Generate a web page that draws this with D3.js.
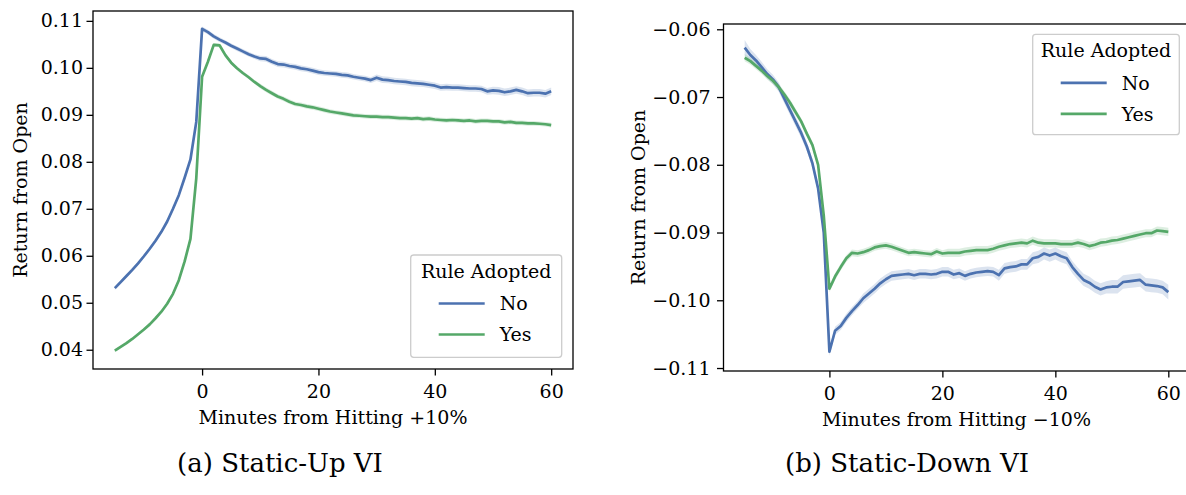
<!DOCTYPE html>
<html><head><meta charset="utf-8">
<script src="https://cdn.jsdelivr.net/npm/d3@7"></script>
<style>
body{margin:0;background:#fff}
svg{display:block}
text{font-family:"DejaVu Serif",serif;fill:#000}
</style>
</head><body>
<svg id="chart" width="1186" height="495"></svg>
<script>
// ---- data ----
const minutes = [-15,-14,-13,-12,-11,-10,-9,-8,-7,-6,-5,-4,-3,-2,-1,
  0,1,2,3,4,5,6,7,8,9,10,11,12,13,14,15,16,17,18,19,20,21,22,23,24,25,26,27,28,29,
  30,31,32,33,34,35,36,37,38,39,40,41,42,43,44,45,46,47,48,49,50,51,52,53,54,55,56,57,58,59,60];
const seriesNames = ["No", "Yes"];
const xTicks = [0, 20, 40, 60];

// (a) Static-Up VI
const upNo = [0.0531,0.0544,0.0557,0.0570,0.0584,0.0599,0.0615,0.0632,0.0651,0.0673,0.0700,0.0729,0.0766,0.0805,0.0885,
  0.1083,0.1076,0.1067,0.1060,0.1054,0.1047,0.1041,0.1035,0.1029,0.1024,
  0.1020,0.1019,0.1013,0.1008,0.1007,0.1004,0.1002,0.0999,0.0997,0.0994,
  0.0991,0.0989,0.0988,0.0987,0.0985,0.0984,0.0981,0.0979,0.0977,0.0974,
  0.0979,0.0975,0.0974,0.0972,0.0971,0.0970,0.0968,0.0967,0.0966,0.0964,
  0.0962,0.0958,0.0959,0.0958,0.0958,0.0957,0.0956,0.0956,0.0955,0.0950,
  0.0952,0.0951,0.0948,0.0950,0.0953,0.0950,0.0946,0.0947,0.0947,0.0945,
  0.0950];
const upYes = [0.0398,0.0406,0.0414,0.0423,0.0433,0.0443,0.0454,0.0467,0.0481,0.0498,0.0519,0.0548,0.0588,0.0636,0.0765,
  0.0981,0.1013,0.1049,0.1048,0.1027,0.1011,0.0999,0.0989,0.0980,0.0970,
  0.0961,0.0953,0.0946,0.0939,0.0934,0.0928,0.0923,0.0921,0.0918,0.0916,
  0.0913,0.0910,0.0907,0.0905,0.0903,0.0901,0.0899,0.0898,0.0897,0.0896,
  0.0896,0.0895,0.0895,0.0894,0.0893,0.0893,0.0892,0.0893,0.0891,0.0892,
  0.0890,0.0889,0.0888,0.0889,0.0888,0.0887,0.0888,0.0886,0.0887,0.0887,
  0.0886,0.0886,0.0884,0.0885,0.0883,0.0883,0.0882,0.0882,0.0881,0.0880,
  0.0878];
const upNoCI = [0.0004,0.0004,0.0004,0.0004,0.0004,0.0004,0.0004,0.0004,0.0004,0.0004,0.0004,0.0004,0.0004,0.0004,0.0004,
  0.0005,0.0005,0.0005,0.0005,0.0005,0.0005,0.0005,0.0005,0.0005,0.0005,
  0.0006,0.0006,0.0006,0.0006,0.0006,0.0006,0.0006,0.0006,0.0006,0.0006,
  0.0006,0.0006,0.0006,0.0006,0.0006,0.0006,0.0006,0.0006,0.0006,0.0006,
  0.0007,0.0007,0.0007,0.0007,0.0007,0.0007,0.0007,0.0007,0.0007,0.0007,
  0.0007,0.0007,0.0007,0.0007,0.0007,0.0007,0.0007,0.0007,0.0007,0.0007,
  0.0008,0.0008,0.0008,0.0008,0.0008,0.0008,0.0008,0.0008,0.0008,0.0008,
  0.0008];
const upYesCI = [0.0003,0.0003,0.0003,0.0003,0.0003,0.0003,0.0003,0.0003,0.0003,0.0003,0.0003,0.0003,0.0003,0.0003,0.0003,
  0.0004,0.0004,0.0004,0.0004,0.0004,0.0004,0.0004,0.0004,0.0004,0.0004,
  0.0005,0.0005,0.0005,0.0005,0.0005,0.0005,0.0005,0.0005,0.0005,0.0005,
  0.0005,0.0005,0.0005,0.0005,0.0005,0.0005,0.0005,0.0005,0.0005,0.0005,
  0.0005,0.0005,0.0005,0.0005,0.0005,0.0005,0.0005,0.0005,0.0005,0.0005,
  0.0005,0.0005,0.0005,0.0005,0.0005,0.0005,0.0005,0.0005,0.0005,0.0005,
  0.0005,0.0005,0.0005,0.0005,0.0005,0.0005,0.0005,0.0005,0.0005,0.0005,
  0.0005];
const upYTicks = [0.04, 0.05, 0.06, 0.07, 0.08, 0.09, 0.10, 0.11];
const upYLabels = ["0.04", "0.05", "0.06", "0.07", "0.08", "0.09", "0.10", "0.11"];

// (b) Static-Down VI
const downNo = [-0.0627,-0.0638,-0.0646,-0.0656,-0.0666,-0.0674,-0.0685,-0.0702,-0.0719,-0.0736,-0.0753,-0.0773,-0.0798,-0.0835,-0.0900,
  -0.1076,-0.1045,-0.1038,-0.1026,-0.1016,-0.1007,-0.0997,-0.0990,-0.0983,-0.0975,
  -0.0969,-0.0964,-0.0963,-0.0962,-0.0961,-0.0963,-0.0961,-0.0961,-0.0962,-0.0961,
  -0.0958,-0.0958,-0.0962,-0.0960,-0.0964,-0.0961,-0.0959,-0.0958,-0.0957,-0.0958,
  -0.0963,-0.0953,-0.0951,-0.0950,-0.0947,-0.0947,-0.0938,-0.0936,-0.0931,-0.0934,
  -0.0931,-0.0935,-0.0938,-0.0951,-0.0961,-0.0970,-0.0974,-0.0980,-0.0984,-0.0981,
  -0.0980,-0.0980,-0.0973,-0.0972,-0.0971,-0.0970,-0.0977,-0.0978,-0.0979,-0.0981,
  -0.0988];
const downYes = [-0.0642,-0.0647,-0.0654,-0.0661,-0.0669,-0.0676,-0.0685,-0.0696,-0.0708,-0.0722,-0.0736,-0.0754,-0.0771,-0.0800,-0.0875,
  -0.0983,-0.0965,-0.0951,-0.0938,-0.0930,-0.0931,-0.0929,-0.0926,-0.0922,-0.0920,
  -0.0919,-0.0921,-0.0924,-0.0927,-0.0930,-0.0929,-0.0930,-0.0931,-0.0932,-0.0928,
  -0.0931,-0.0930,-0.0930,-0.0930,-0.0928,-0.0927,-0.0926,-0.0926,-0.0926,-0.0924,
  -0.0921,-0.0919,-0.0917,-0.0916,-0.0915,-0.0916,-0.0912,-0.0915,-0.0916,-0.0916,
  -0.0916,-0.0917,-0.0917,-0.0917,-0.0915,-0.0917,-0.0920,-0.0918,-0.0915,-0.0914,
  -0.0912,-0.0911,-0.0909,-0.0907,-0.0905,-0.0903,-0.0901,-0.0901,-0.0897,-0.0898,
  -0.0899];
const downNoCI = [0.0011,0.0009,0.0008,0.0008,0.0007,0.0007,0.0007,0.0007,0.0007,0.0007,0.0007,0.0007,0.0007,0.0007,0.0007,
  0.0006,0.0006,0.0006,0.0006,0.0006,0.0006,0.0007,0.0007,0.0007,0.0007,
  0.0007,0.0007,0.0007,0.0007,0.0007,0.0007,0.0007,0.0007,0.0007,0.0007,
  0.0007,0.0007,0.0007,0.0007,0.0007,0.0007,0.0007,0.0007,0.0007,0.0007,
  0.0008,0.0008,0.0008,0.0008,0.0008,0.0008,0.0009,0.0009,0.0009,0.0009,
  0.0009,0.0009,0.0009,0.0009,0.0009,0.0009,0.0009,0.0009,0.0009,0.0009,
  0.0010,0.0010,0.0010,0.0010,0.0010,0.0010,0.0010,0.0010,0.0010,0.0010,
  0.0011];
const downYesCI = [0.0005,0.0005,0.0005,0.0005,0.0005,0.0005,0.0005,0.0005,0.0005,0.0005,0.0005,0.0005,0.0005,0.0005,0.0005,
  0.0005,0.0005,0.0005,0.0005,0.0005,0.0005,0.0005,0.0005,0.0005,0.0005,
  0.0005,0.0005,0.0005,0.0005,0.0005,0.0005,0.0005,0.0005,0.0005,0.0005,
  0.0005,0.0006,0.0006,0.0006,0.0006,0.0006,0.0006,0.0006,0.0006,0.0006,
  0.0006,0.0006,0.0006,0.0006,0.0006,0.0006,0.0006,0.0006,0.0006,0.0006,
  0.0006,0.0006,0.0006,0.0006,0.0006,0.0006,0.0006,0.0006,0.0006,0.0006,
  0.0006,0.0006,0.0006,0.0006,0.0006,0.0006,0.0006,0.0006,0.0006,0.0006,
  0.0006];
const downYTicks = [-0.11, -0.10, -0.09, -0.08, -0.07, -0.06];
const downYLabels = ["\u22120.11", "\u22120.10", "\u22120.09", "\u22120.08", "\u22120.07", "\u22120.06"];

const colors = {No: "#4c72b0", Yes: "#55a868"};

// ---- layout ----
const panels = [
  {id: "a", L: 93, R: 573, T: 11, B: 369, xDomain: [-18.75, 63.75], yDomain: [0.0359, 0.1121],
   yTicks: upYTicks, yLabels: upYLabels, yPad: 3.5,
   series: {No: upNo, Yes: upYes}, ci: {No: upNoCI, Yes: upYesCI},
   xLabel: "Minutes from Hitting +10%", yLabelX: 27,
   legend: {x: 410.7, y: 255, w: 151, h: 102.3},
   caption: "(a) Static-Up VI", capX: 280},
  {id: "b", L: 723.5, R: 1189.5, T: 24, B: 371, xDomain: [-18.75, 63.75], yDomain: [-0.11044, -0.05922],
   yTicks: downYTicks, yLabels: downYLabels, yPad: 6.5,
   series: {No: downNo, Yes: downYes}, ci: {No: downNoCI, Yes: downYesCI},
   xLabel: "Minutes from Hitting \u221210%", yLabelX: 645,
   legend: {x: 1032.7, y: 34.3, w: 146.6, h: 100.4},
   caption: "(b) Static-Down VI", capX: 907}
];

const svg = d3.select("#chart");
const FS = 19;

panels.forEach(p => {
  const x = d3.scaleLinear().domain(p.xDomain).range([p.L, p.R]);
  const y = d3.scaleLinear().domain(p.yDomain).range([p.B, p.T]);
  const g = svg.append("g");

  g.append("clipPath").attr("id", "clip-" + p.id)
    .append("rect").attr("x", p.L).attr("y", p.T).attr("width", p.R - p.L).attr("height", p.B - p.T);
  const plot = g.append("g").attr("clip-path", `url(#clip-${p.id})`);

  seriesNames.forEach(name => {
    const vals = p.series[name], cis = p.ci[name];
    const rows = minutes.map((m, i) => ({m, v: vals[i], c: cis[i]}));
    plot.append("path").datum(rows)
      .attr("fill", colors[name]).attr("fill-opacity", 0.2).attr("stroke", "none")
      .attr("d", d3.area().x(d => x(d.m)).y0(d => y(d.v - d.c)).y1(d => y(d.v + d.c)));
  });
  seriesNames.forEach(name => {
    const vals = p.series[name];
    const rows = minutes.map((m, i) => ({m, v: vals[i]}));
    plot.append("path").datum(rows)
      .attr("fill", "none").attr("stroke", colors[name]).attr("stroke-width", 2.7)
      .attr("stroke-linejoin", "round").attr("stroke-linecap", "butt")
      .attr("d", d3.line().x(d => x(d.m)).y(d => y(d.v)));
  });

  // axes
  const xa = g.append("g").attr("transform", `translate(0,${p.B})`)
    .call(d3.axisBottom(x).tickValues(xTicks).tickSize(6.5).tickPadding(9.5).tickFormat(d3.format("d")));
  const ya = g.append("g").attr("transform", `translate(${p.L},0)`)
    .call(d3.axisLeft(y).tickValues(p.yTicks).tickSize(6.5).tickPadding(p.yPad)
      .tickFormat((d, i) => p.yLabels[i]));
  [xa, ya].forEach(a => {
    a.select(".domain").remove();
    a.selectAll(".tick line").attr("stroke", "#000").attr("stroke-width", 1.3);
    a.selectAll(".tick text").attr("font-family", "DejaVu Serif").attr("font-size", FS).attr("fill", "#000");
  });

  // spines
  g.append("rect").attr("x", p.L).attr("y", p.T).attr("width", p.R - p.L).attr("height", p.B - p.T)
    .attr("fill", "none").attr("stroke", "#000").attr("stroke-width", 1.3);

  // axis labels
  g.append("text").attr("x", (p.L + p.R) / 2).attr("y", p.B + 55).attr("text-anchor", "middle")
    .attr("font-size", FS).text(p.xLabel);
  g.append("text").attr("transform", `translate(${p.yLabelX},${(p.T + p.B) / 2}) rotate(-90)`)
    .attr("text-anchor", "middle").attr("font-size", FS).text("Return from Open");

  // legend
  const lg = p.legend;
  const leg = g.append("g");
  leg.append("rect").attr("x", lg.x).attr("y", lg.y).attr("width", lg.w).attr("height", lg.h)
    .attr("rx", 3).attr("fill", "#fff").attr("fill-opacity", 0.8)
    .attr("stroke", "#cccccc").attr("stroke-width", 1.3);
  leg.append("text").attr("x", lg.x + lg.w / 2).attr("y", lg.y + 22.5).attr("text-anchor", "middle")
    .attr("font-size", FS).text("Rule Adopted");
  seriesNames.forEach((name, i) => {
    const ly = lg.y + 48.5 + i * 31;
    leg.append("line").attr("x1", lg.x + 28).attr("x2", lg.x + 74).attr("y1", ly).attr("y2", ly)
      .attr("stroke", colors[name]).attr("stroke-width", 2.7);
    leg.append("text").attr("x", lg.x + 89).attr("y", ly + 6.8).attr("font-size", FS).text(name);
  });

  // caption
  svg.append("text").attr("x", p.capX).attr("y", 472).attr("text-anchor", "middle")
    .attr("font-size", 26).text(p.caption);
});
</script>
</body></html>
